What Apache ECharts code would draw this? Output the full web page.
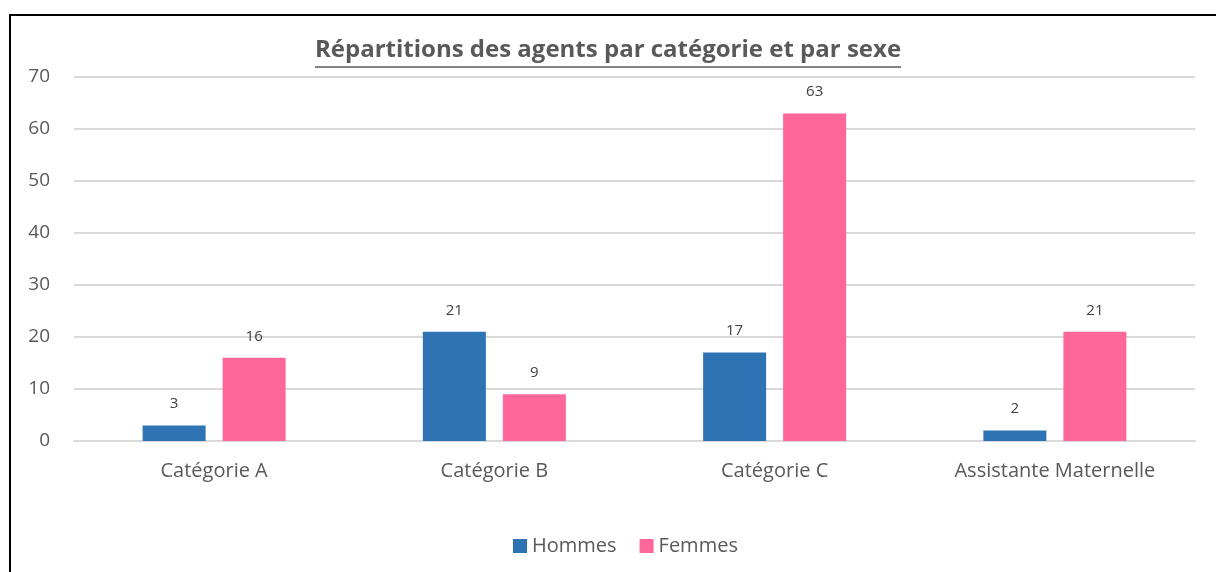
<!DOCTYPE html>
<html>
<head>
	<meta http-equiv="Content-Type" content="text/html; charset=UTF-8">
	<title>Repartitions agents</title>
	<script src="https://cdn.jsdelivr.net/npm/echarts@6/dist/echarts.min.js"></script>
	<style>
		body { margin: 0; background: #fff; }
	</style>
</head>
<body>

	<div id="main" style="width: 1216px;height:572px;"></div>

	<script>

		var categories = ['Catégorie A', 'Catégorie B', 'Catégorie C', 'Assistante Maternelle'];
		var hommes = [3, 21, 17, 2];
		var femmes = [16, 9, 63, 21];
		var yTicks = [0, 10, 20, 30, 40, 50, 60, 70];

		var titleText = 'Répartitions des agents par catégorie et par sexe';
		var fontFam = '"Open Sans", "Noto Sans", sans-serif';

		// width of the title, to put the underline under it
		var ctx = document.createElement('canvas').getContext('2d');
		ctx.font = 'bold 24px ' + fontFam;
		var titleW = ctx.measureText(titleText).width;

		var chartDom = document.getElementById('main');
		var myChart = echarts.init(chartDom);

		var option = {
			animation: false,
			title: {
				text: titleText,
				left: 'center',
				top: 33,
				textStyle: {
					fontFamily: fontFam,
					fontSize: 24,
					fontWeight: 'bold',
					color: '#595959'
				}
			},
			graphic: [
				{
					type: 'polyline',
					shape: { points: [[10, 600], [10, 15], [1216, 15]] },
					style: { stroke: '#000', lineWidth: 2, fill: null }
				},
				{
					type: 'line',
					shape: { x1: 608 - titleW / 2, y1: 67, x2: 608 + titleW / 2, y2: 67 },
					style: { stroke: '#595959', lineWidth: 1.5 }
				}
			],
			legend: {
				data: ['Hommes', 'Femmes'],
				left: 508,
				top: 531,
				itemWidth: 14,
				itemHeight: 14,
				itemGap: 23,
				icon: 'rect',
				textStyle: {
					fontFamily: fontFam,
					fontSize: 20,
					color: '#595959'
				}
			},
			grid: {
				left: 74,
				right: 21,
				top: 77,
				bottom: 131
			},
			xAxis: {
				type: 'category',
				data: categories,
				axisLine: { lineStyle: { color: '#d9d9d9', width: 2 } },
				axisTick: { show: false },
				axisLabel: {
					fontFamily: fontFam,
					fontSize: 20,
					color: '#595959',
					margin: 20
				}
			},
			yAxis: {
				type: 'value',
				min: yTicks[0],
				max: yTicks[yTicks.length - 1],
				interval: 10,
				axisLine: { show: false },
				axisTick: { show: false },
				splitLine: { lineStyle: { color: '#d9d9d9', width: 2 } },
				axisLabel: {
					fontFamily: fontFam,
					fontSize: 19,
					color: '#595959',
					margin: 24
				}
			},
			series: [
				{
					name: 'Hommes',
					type: 'bar',
					data: hommes,
					barWidth: 63,
					barGap: '27%',
					itemStyle: { color: '#2E74B5' },
					label: {
						show: true,
						position: 'top',
						distance: 14,
						fontFamily: fontFam,
						fontSize: 15,
						color: '#404040'
					}
				},
				{
					name: 'Femmes',
					type: 'bar',
					data: femmes,
					barWidth: 63,
					barGap: '27%',
					itemStyle: { color: '#FF6699' },
					label: {
						show: true,
						position: 'top',
						distance: 14,
						fontFamily: fontFam,
						fontSize: 15,
						color: '#404040'
					}
				}
			]
		};

		option && myChart.setOption(option);

	</script>

</body>
</html>
